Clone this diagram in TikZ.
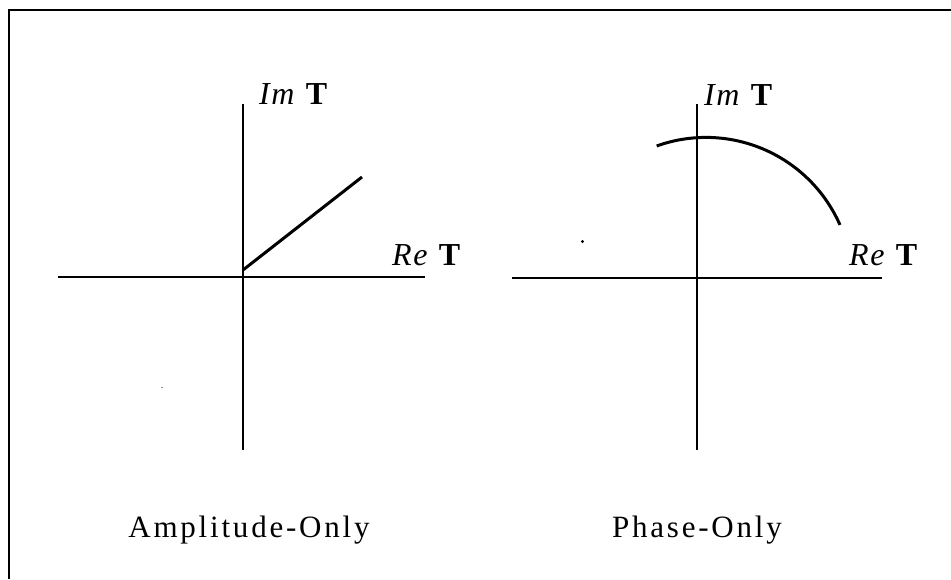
\documentclass[tikz,border=0pt]{standalone}
\usepackage{fontspec}
\setmainfont{Liberation Serif}
\newfontfamily\capfont[LetterSpace=9]{Liberation Serif}
\newfontfamily\labfont[LetterSpace=5]{Liberation Serif}
\begin{document}
\begin{tikzpicture}[x=1pt,y=-1pt,
  axisline/.style={line width=1.5pt},
  curveline/.style={line width=3pt},
  labtext/.style={inner sep=0pt, anchor=base west, font=\labfont\fontsize{32}{32}\selectfont},
  captext/.style={inner sep=0pt, anchor=base, font=\capfont\fontsize{31}{31}\selectfont}]
\useasboundingbox (0,0) rectangle (951,579);
% frame (open on right and bottom)
\coordinate (fbl) at (9,579);
\coordinate (ftl) at (9,10);
\coordinate (ftr) at (951,10);
\draw[line width=2.5pt] (fbl) -- (ftl) -- (ftr);
% left diagram
\coordinate (lt) at (243,104);
\coordinate (lb) at (243,450);
\coordinate (ll) at (58,277);
\coordinate (lr) at (425,277);
\draw[axisline] (lt) -- (lb);
\draw[axisline] (ll) -- (lr);
\coordinate (lo) at (243,270);
\coordinate (le) at (362,177);
\draw[curveline] (lo) -- (le);
\node[labtext] (limt) at (259,104) {\textit{Im} \textbf{T}};
\node[labtext] (lret) at (392,265) {\textit{Re} \textbf{T}};
\node[captext] (lcap) at (249,537) {Amplitude-Only};
% right diagram
\coordinate (rt) at (697,104);
\coordinate (rb) at (697,450);
\coordinate (rl) at (512,278);
\coordinate (rr) at (882,278);
\draw[axisline] (rt) -- (rb);
\draw[axisline] (rl) -- (rr);
\draw[curveline] plot[domain=-109.7:-23.7, samples=80, smooth] ({706+146.3*cos(\x)},{283.7+146.3*sin(\x)});
\node[labtext] (rimt) at (704,105) {\textit{Im} \textbf{T}};
\node[labtext] (rret) at (849,265) {\textit{Re} \textbf{T}};
\node[captext] (rcap) at (697,537) {Phase-Only};
% specks
\fill (582.5,241.5) circle[radius=1.7];
\fill[gray] (162,387.5) circle[radius=0.9];
\end{tikzpicture}
\end{document}
